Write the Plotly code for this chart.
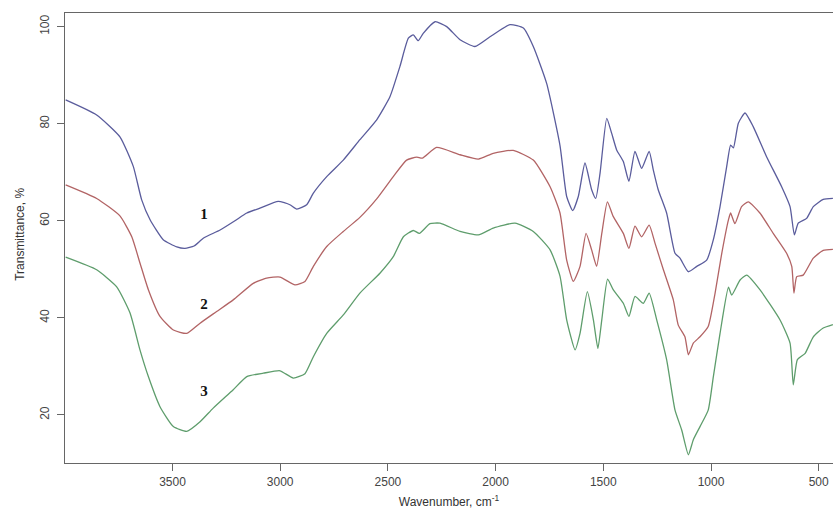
import plotly.graph_objects as go

# Curve 1 (blue)
wn1 = [3996, 3852, 3744, 3682, 3643, 3604, 3543, 3480, 3442, 3400, 3357, 3279, 3210, 3155, 3094, 3009, 2955, 2923, 2877,
       2846, 2784, 2707, 2630, 2552, 2490, 2444, 2405, 2382, 2359, 2336, 2281, 2227, 2165, 2096, 2026, 1933,
       1871, 1825, 1763, 1701, 1670, 1642, 1616, 1585, 1554, 1535, 1515, 1484, 1461, 1438, 1407, 1381, 1353,
       1322, 1287, 1268, 1245, 1206, 1167, 1144, 1105, 1066, 1020, 989, 958, 927, 909, 896, 873, 842, 804,
       742, 672, 633, 613, 595, 556, 525, 479, 434]
t1 = [84.9, 81.8, 77.3, 71.2, 64.3, 60.2, 56.1, 54.6, 54.3, 54.8, 56.4, 58.1, 60.0, 61.6, 62.6, 64.0, 63.3, 62.4, 63.3,
      65.7, 69.1, 72.5, 76.7, 80.8, 85.6, 91.8, 97.6, 98.3, 97.1, 98.6, 101.0, 100.0, 97.3, 95.9, 97.9, 100.4,
      99.7, 95.9, 88.3, 75.5, 65.0, 62.1, 65.0, 71.9, 66.4, 64.6, 69.8, 81.1, 78.0, 74.6, 72.2, 68.1, 74.3,
      70.8, 74.3, 70.5, 66.4, 61.6, 53.3, 52.3, 49.5, 50.6, 51.9, 56.1, 62.9, 71.2, 75.6, 75.0, 80.1, 82.2, 79.4,
      73.2, 67.0, 62.9, 57.1, 59.5, 60.5, 62.9, 64.4, 64.6]

# Curve 2 (red)
wn2 = [3996, 3852, 3744, 3689, 3651, 3612, 3558, 3496, 3434, 3372, 3295, 3218, 3125, 3063, 3001, 2931, 2885,
       2846, 2784, 2707, 2630, 2552, 2475, 2413, 2366, 2340, 2274, 2165, 2080, 2011, 1918, 1825, 1747, 1701,
       1670, 1639, 1608, 1580, 1554, 1531, 1507, 1481, 1454, 1407, 1381, 1353, 1322, 1287, 1260, 1221, 1175,
       1152, 1121, 1105, 1082, 1051, 1013, 981, 950, 919, 909, 889, 858, 827, 773, 711, 649, 625, 615, 602,
       572, 525, 479, 434]
t2 = [67.4, 64.6, 61.0, 56.7, 51.3, 45.8, 40.3, 37.5, 36.8, 38.9, 41.3, 43.7, 47.1, 48.2, 48.4, 46.8, 47.5,
      50.6, 54.7, 57.8, 60.7, 64.5, 69.1, 72.5, 73.1, 72.9, 75.1, 73.6, 72.7, 73.9, 74.5, 72.5, 67.0, 61.6,
      51.9, 47.5, 50.6, 57.4, 54.0, 50.6, 57.4, 63.9, 60.9, 57.4, 54.3, 58.9, 56.7, 59.1, 55.4, 49.9, 43.7,
      38.5, 36.1, 32.4, 34.8, 36.1, 38.2, 45.1, 53.3, 60.2, 61.6, 59.4, 62.9, 63.9, 61.6, 57.4, 53.3, 50.6,
      45.1, 48.5, 48.8, 52.3, 53.9, 54.1]

# Curve 3 (green)
wn3 = [3996, 3852, 3759, 3697, 3651, 3612, 3558, 3496, 3434, 3372, 3311, 3218, 3155, 3078, 3001, 2939, 2885,
       2846, 2784, 2707, 2630, 2537, 2475, 2428, 2382, 2354, 2305, 2258, 2165, 2080, 2011, 1910, 1825, 1747,
       1701, 1670, 1631, 1608, 1574, 1546, 1525, 1507, 1480, 1454, 1407, 1381, 1353, 1314, 1287, 1252, 1206,
       1167, 1136, 1105, 1082, 1051, 1013, 989, 958, 919, 904, 865, 834, 773, 680, 633, 618, 599, 563, 525,
       479, 434]
t3 = [52.5, 49.9, 46.4, 41.0, 33.4, 27.9, 21.7, 17.6, 16.6, 18.6, 21.4, 25.2, 27.9, 28.6, 29.1, 27.6, 28.5,
      32.0, 36.8, 40.6, 45.1, 49.2, 52.6, 56.7, 58.0, 57.4, 59.4, 59.5, 57.8, 57.1, 58.5, 59.5, 57.8, 54.0,
      48.6, 39.6, 33.4, 36.8, 45.4, 39.6, 33.7, 39.6, 48.0, 45.8, 43.0, 40.3, 44.4, 43.0, 45.1, 39.6, 31.4,
      21.0, 16.9, 11.8, 14.9, 17.6, 21.0, 27.9, 36.8, 46.3, 44.7, 47.8, 48.8, 45.8, 39.6, 34.8, 26.2, 31.4,
      32.7, 36.1, 37.9, 38.6]

labels = ["1", "2", "3"]
label_x = [3354, 3354, 3354]
label_y = [61.2, 42.7, 24.6]

x_ticks = [3500, 3000, 2500, 2000, 1500, 1000, 500]
y_ticks = [20, 40, 60, 80, 100]

colors = ["#5a5c9c", "#b26465", "#5e9d6c"]

fig = go.Figure()
for wn, t, c in [(wn1, t1, colors[0]), (wn2, t2, colors[1]), (wn3, t3, colors[2])]:
    fig.add_trace(go.Scatter(x=wn, y=t, mode="lines",
                             line=dict(color=c, width=1.3, shape="spline", smoothing=0.5),
                             showlegend=False, hoverinfo="skip"))

fig.add_trace(go.Scatter(x=label_x, y=label_y, mode="text", text=labels,
                         texttemplate="<b>%{text}</b>",
                         textfont=dict(family="Liberation Serif", size=15, color="#111111"),
                         showlegend=False, hoverinfo="skip"))

fig.update_layout(
    width=833, height=515,
    margin=dict(l=65, r=0, t=13, b=52),
    plot_bgcolor="white", paper_bgcolor="white",
    font=dict(family="Liberation Sans, Arial", size=12, color="#444444"),
)
fig.update_xaxes(range=[3999, 433.6], tickvals=x_ticks, ticks="outside", ticklen=7,
                 tickcolor="#666666", showline=True, linecolor="#666666", linewidth=1.3,
                 mirror=True, showgrid=False, zeroline=False, automargin=False,
                 title=dict(text="Wavenumber, cm<sup>-1</sup>", standoff=10,
                            font=dict(size=12, color="#333333")))
fig.update_yaxes(range=[10.1, 102.8], tickvals=y_ticks, ticks="outside", ticklen=7,
                 tickcolor="#666666", showline=True, linecolor="#666666", linewidth=1.3,
                 mirror=False, showgrid=False, zeroline=False, tickangle=-90, automargin=False,
                 ticklabelstandoff=3)

fig.add_annotation(text="Transmittance, %", textangle=-90, showarrow=False,
                   xref="paper", yref="paper", x=-45 / 768, y=0.507,
                   xanchor="center", yanchor="middle",
                   font=dict(size=12, color="#333333"))

# remove the default page margin so the figure fills the window exactly
fig.write_html("out.html",
               config={"displayModeBar": False},
               post_script="document.body.style.margin='0';document.body.style.overflow='hidden';")
